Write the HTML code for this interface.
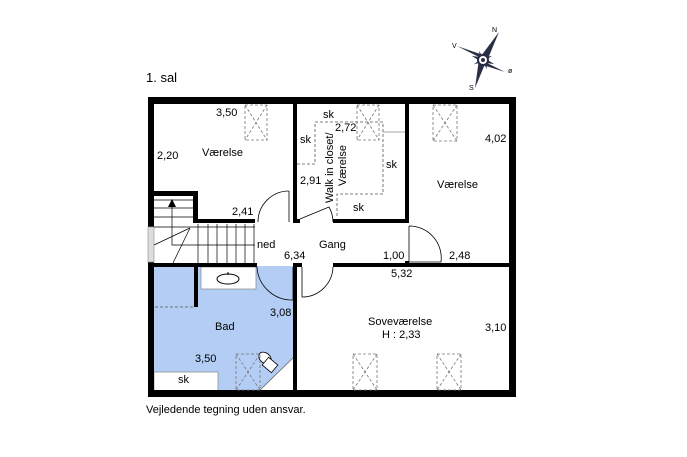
<!DOCTYPE html>
<html><head><meta charset="utf-8"><style>
html,body{margin:0;padding:0;background:#fff;}
svg{display:block;font-family:"Liberation Sans",sans-serif;}
text{font-size:11px;fill:#000;}
</style></head><body>
<svg width="687" height="457" viewBox="0 0 687 457" xmlns="http://www.w3.org/2000/svg">
<rect width="687" height="457" fill="#fff"/>
<!-- bad fill -->
<rect x="154" y="266" width="142" height="125" fill="#b4cdf5"/>
<rect x="201" y="267" width="55" height="22" fill="#fff" stroke="#888" stroke-width="0.7"/>
<ellipse cx="228" cy="279" rx="11" ry="5" fill="none" stroke="#000" stroke-width="1"/>
<line x1="228" y1="272" x2="228" y2="275" stroke="#000"/>
<rect x="154" y="372" width="64" height="19" fill="#fff" stroke="#888" stroke-width="0.7"/>
<polygon points="296,355 296,391 259,391" fill="#fff"/>
<line x1="296" y1="355" x2="259" y2="391" stroke="#666" stroke-width="0.8"/>
<ellipse cx="265" cy="358" rx="7" ry="5" transform="rotate(40 265 358)" fill="#fff" stroke="#000" stroke-width="0.8"/>
<rect x="264" y="360" width="12" height="10" transform="rotate(40 270 365)" fill="#fff" stroke="#000" stroke-width="0.8"/>
<line x1="155" y1="307" x2="194" y2="307" stroke="#555" stroke-dasharray="3,2" stroke-width="0.8"/>
<!-- walls -->
<g fill="#000">
<rect x="148" y="97" width="368" height="7"/>
<rect x="148" y="390" width="368" height="7"/>
<rect x="148" y="97" width="6" height="130"/>
<rect x="148" y="262" width="6" height="135"/>
<rect x="509" y="97" width="7" height="300"/>
<rect x="148" y="191" width="50" height="5"/>
<rect x="193" y="191" width="5" height="32"/>
<rect x="193" y="219" width="62" height="4"/>
<rect x="293" y="97" width="4" height="126"/>
<rect x="293" y="219" width="7" height="4"/>
<rect x="333" y="219" width="76" height="4"/>
<rect x="405" y="97" width="4" height="126"/>
<rect x="148" y="263" width="109" height="4"/>
<rect x="293" y="263" width="9" height="4"/>
<rect x="293" y="263" width="4" height="130"/>
<rect x="333" y="263" width="183" height="4"/>
<rect x="405" y="261" width="4" height="6"/>
<rect x="194" y="267" width="4" height="40"/>
</g>
<!-- window left -->
<rect x="148" y="227" width="6" height="35" fill="#ddd" stroke="#999" stroke-width="0.7"/>
<!-- walk-in closet inner lines -->
<line x1="383" y1="132" x2="405" y2="132" stroke="#888" stroke-width="0.7"/>
<g stroke="#555" stroke-width="0.8" stroke-dasharray="3,2" fill="none">
<polyline points="297,164 315,164 315,122 383,122 383,194 337,194 337,218"/>
</g>
<!-- stairs -->
<g stroke="#000" stroke-width="0.7" fill="none">
<line x1="154" y1="200" x2="193" y2="200"/>
<line x1="154" y1="208" x2="193" y2="208"/>
<line x1="154" y1="217" x2="193" y2="217"/>
<line x1="154" y1="227" x2="255" y2="227"/>
<line x1="198" y1="224" x2="198" y2="263"/>
<line x1="208" y1="224" x2="208" y2="263"/>
<line x1="217" y1="224" x2="217" y2="263"/>
<line x1="227" y1="224" x2="227" y2="263"/>
<line x1="236" y1="224" x2="236" y2="263"/>
<line x1="245" y1="224" x2="245" y2="263"/>
<line x1="254" y1="224" x2="254" y2="263"/>
<polyline points="172,207 172,245 255,245"/>
<line x1="190" y1="228" x2="154" y2="245"/>
<line x1="190" y1="228" x2="173" y2="263"/>
</g>
<polygon points="172,199 168,207 176,207" fill="#000"/>
<!-- doors -->
<g stroke="#000" stroke-width="0.8" fill="none">
<path d="M289,191 A31,31 0 0 0 258,222"/><line x1="289" y1="191" x2="289" y2="222"/>
<path d="M300,219 L329,207 A31,31 0 0 1 333,222"/>
<path d="M409,226 L409,262 L441,262 A32,32 0 0 0 409,226"/>
<path d="M257,267 A35,35 0 0 0 293,300"/><line x1="293" y1="267" x2="293" y2="300"/>
<path d="M302,267 L302,297 A31,31 0 0 0 333,267"/>
</g>
<!-- skylights -->
<g stroke="#777" stroke-width="0.8" stroke-dasharray="3,2" fill="none">
<rect x="245" y="105" width="22" height="35"/><path d="M245,105 L267,140 M267,105 L245,140"/>
<rect x="357" y="105" width="22" height="35"/><path d="M357,105 L379,140 M379,105 L357,140"/>
<rect x="433" y="105" width="24" height="36"/><path d="M433,105 L457,141 M457,105 L433,141"/>
<rect x="236" y="354" width="24" height="36"/><path d="M236,354 L260,390 M260,354 L236,390"/>
<rect x="353" y="354" width="24" height="36"/><path d="M353,354 L377,390 M377,354 L353,390"/>
<rect x="437" y="354" width="24" height="36"/><path d="M437,354 L461,390 M461,354 L437,390"/>
</g>
<!-- compass -->
<g transform="translate(483,60)">
<polygon points="-2,-4 16,-28 4,1" fill="#2a2f45"/>
<polygon points="2,4 -8,28 -4,-1" fill="#2a2f45"/>
<polygon points="-4,-3 -26,-14 0,-5" fill="#2a2f45"/>
<polygon points="4,3 22,12 0,5" fill="#2a2f45"/>
<polygon points="0,-12 2.5,0 0,12 -2.5,0" fill="#2a2f45" transform="rotate(20)"/>
<polygon points="0,-12 2.5,0 0,12 -2.5,0" fill="#2a2f45" transform="rotate(110)"/>
<polygon points="0,-10 2,0 0,10 -2,0" fill="#2a2f45" transform="rotate(65)"/>
<polygon points="0,-10 2,0 0,10 -2,0" fill="#2a2f45" transform="rotate(155)"/>
<circle r="5" fill="#fff" stroke="#2a2f45" stroke-width="2"/>
<circle r="2" fill="#2a2f45"/>
<text x="9" y="-28" style="font-size:7px">N</text>
<text x="-31" y="-12" style="font-size:7px">V</text>
<text x="25" y="13" style="font-size:7px">ø</text>
<text x="-14" y="30" style="font-size:7px">S</text>
</g>
<!-- labels -->
<text x="146" y="82" style="font-size:13px">1. sal</text>
<text x="216" y="116">3,50</text>
<text x="157" y="159">2,20</text>
<text x="202" y="156">Værelse</text>
<text x="232" y="215">2,41</text>
<text x="257" y="248">ned</text>
<text x="319" y="248">Gang</text>
<text x="284" y="259">6,34</text>
<text x="323" y="118">sk</text>
<text x="335" y="131">2,72</text>
<text x="300" y="143">sk</text>
<text x="386" y="168">sk</text>
<text x="300" y="184">2,91</text>
<text x="353" y="211">sk</text>
<text x="333" y="203" transform="rotate(-90 333 203)">Walk in closet/</text>
<text x="346" y="186" transform="rotate(-90 346 186)">Værelse</text>
<text x="485" y="142">4,02</text>
<text x="437" y="188">Værelse</text>
<text x="383" y="259">1,00</text>
<text x="449" y="259">2,48</text>
<text x="391" y="277">5,32</text>
<text x="270" y="316">3,08</text>
<text x="215" y="330">Bad</text>
<text x="368" y="325">Soveværelse</text>
<text x="382" y="338">H : 2,33</text>
<text x="485" y="331">3,10</text>
<text x="195" y="362">3,50</text>
<text x="178" y="383">sk</text>
<text x="146" y="413">Vejledende tegning uden ansvar.</text>
</svg>
</body></html>
